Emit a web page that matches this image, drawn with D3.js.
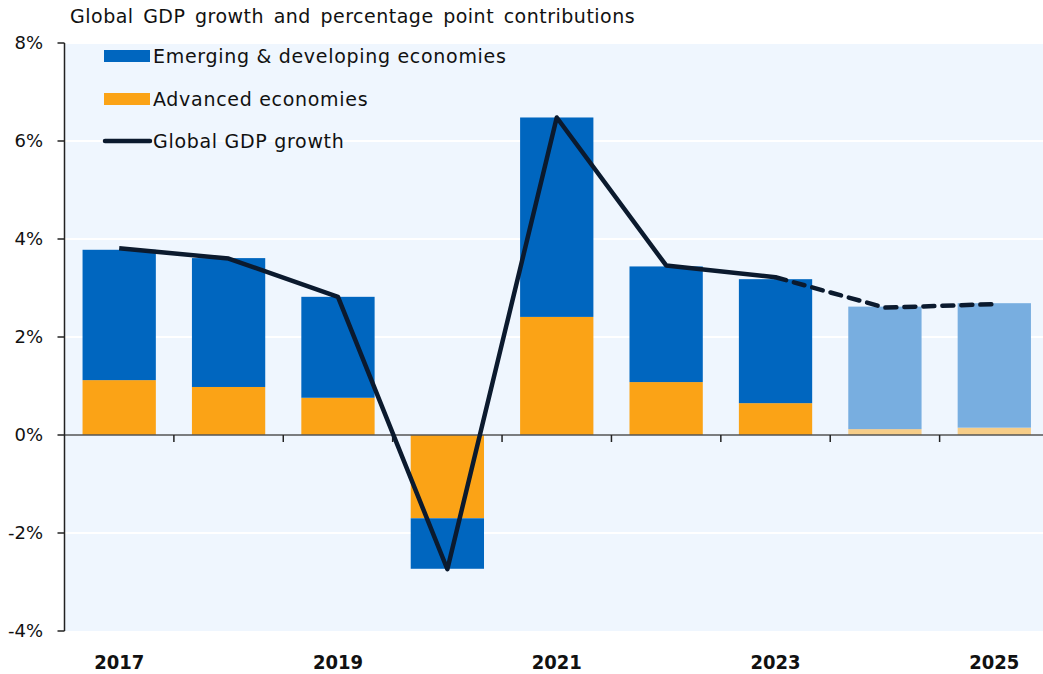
<!DOCTYPE html>
<html lang="en">
<head>
  <meta charset="UTF-8" />
  <title>Global GDP growth and percentage point contributions</title>
  <style>
    body { margin: 0; background: #fff; }
    svg { display: block; font-family: 'DejaVu Sans', sans-serif; }
    .ytick text { font-size: 18px; fill: #111; }
    .xlab { font-family: 'DejaVu Sans Condensed', 'DejaVu Sans', sans-serif; font-stretch: condensed; font-size: 20px; font-weight: bold; fill: #111; }
    .legend text { font-size: 19px; fill: #111; letter-spacing: 0.7px; }
  </style>
</head>
<body>
  <svg id="chart" width="1043" height="674"></svg>
  <script src="https://d3js.org/d3.v7.min.js"></script>
  <script>
    // data (percent / percentage points)
    const years = ["2017", "2018", "2019", "2020", "2021", "2022", "2023", "2024", "2025"];
    const advanced = [1.12, 0.98, 0.76, -1.70, 2.41, 1.08, 0.65, 0.12, 0.15];
    const emerging = [2.66, 2.63, 2.06, -1.03, 4.07, 2.36, 2.53, 2.50, 2.54];
    const globalGrowth = [3.81, 3.60, 2.82, -2.74, 6.48, 3.46, 3.22, 2.60, 2.67];
    const forecastYears = ["2024", "2025"];
    const yTicks = [-4, -2, 0, 2, 4, 6, 8];
    const xLabels = ["2017", "2019", "2021", "2023", "2025"];

    const svg = d3.select("#chart");
    const plot = { left: 64.5, right: 1049, top: 43, bottom: 631 };

    const x = d3.scaleBand().domain(years).range([plot.left, plot.right]).paddingInner(0.33).paddingOuter(0.165);
    const y = d3.scaleLinear().domain([-4, 8]).range([plot.bottom, plot.top]);

    const colors = {
      em: "#0066bf", adv: "#fba316",
      emF: "#78aee0", advF: "#f6cd88",
      line: "#0b1a2e"
    };

    // plot background
    svg.append("rect")
      .attr("x", plot.left).attr("y", plot.top)
      .attr("width", plot.right - plot.left).attr("height", plot.bottom - plot.top)
      .attr("fill", "#eff6fe");

    // gridlines
    svg.append("g").selectAll("line")
      .data(yTicks.filter(d => d !== 0 && d !== -4))
      .join("line")
      .attr("x1", plot.left).attr("x2", plot.right)
      .attr("y1", d => y(d)).attr("y2", d => y(d))
      .attr("stroke", "#fff").attr("stroke-width", 2);

    // stacked bars
    const rows = years.map((yr, i) => ({ yr, adv: advanced[i], em: emerging[i], fc: forecastYears.includes(yr) }));
    const bars = svg.append("g");
    rows.forEach(d => {
      const x0 = x(d.yr), w = x.bandwidth();
      // advanced from 0, emerging stacked on top (same sign)
      bars.append("rect")
        .attr("x", x0).attr("width", w)
        .attr("y", y(Math.max(0, d.adv))).attr("height", Math.abs(y(d.adv) - y(0)))
        .attr("fill", d.fc ? colors.advF : colors.adv);
      const base = d.adv, top = d.adv + d.em;
      bars.append("rect")
        .attr("x", x0).attr("width", w)
        .attr("y", y(Math.max(base, top))).attr("height", Math.abs(y(top) - y(base)))
        .attr("fill", d.fc ? colors.emF : colors.em);
    });

    // zero line and x ticks
    svg.append("line")
      .attr("x1", plot.left).attr("x2", plot.right)
      .attr("y1", y(0)).attr("y2", y(0))
      .attr("stroke", "#555").attr("stroke-width", 1.5);
    const step = x.step();
    svg.append("g").selectAll("line")
      .data(years.slice(1))
      .join("line")
      .attr("x1", d => x(d) - (step - x.bandwidth()) / 2)
      .attr("x2", d => x(d) - (step - x.bandwidth()) / 2)
      .attr("y1", y(0)).attr("y2", y(0) + 7)
      .attr("stroke", "#222").attr("stroke-width", 1.5);

    // y axis
    const yAxis = svg.append("g").attr("class", "ytick");
    yAxis.append("line")
      .attr("x1", plot.left).attr("x2", plot.left)
      .attr("y1", plot.top).attr("y2", plot.bottom)
      .attr("stroke", "#222").attr("stroke-width", 1.5);
    const yt = yAxis.selectAll("g").data(yTicks).join("g")
      .attr("transform", d => `translate(0,${y(d)})`);
    yt.append("line").attr("x1", plot.left - 7).attr("x2", plot.left).attr("stroke", "#222").attr("stroke-width", 1.5);
    yt.append("text").attr("x", 43).attr("dy", "0.35em").attr("text-anchor", "end")
      .text(d => d + "%");

    // x labels
    svg.append("g").selectAll("text").data(xLabels).join("text")
      .attr("class", "xlab")
      .attr("x", d => x(d) + x.bandwidth() / 2)
      .attr("y", 669)
      .attr("text-anchor", "middle")
      .text(d => d);

    // global growth line: solid up to 2023, dashed for forecast
    const pts = years.map((yr, i) => [x(yr) + x.bandwidth() / 2, y(globalGrowth[i])]);
    const lineGen = d3.line();
    const split = years.indexOf("2023");
    svg.append("path")
      .attr("d", lineGen(pts.slice(0, split + 1)))
      .attr("fill", "none").attr("stroke", colors.line).attr("stroke-width", 4.5)
      .attr("stroke-linejoin", "round");
    svg.append("path")
      .attr("d", lineGen(pts.slice(split)))
      .attr("fill", "none").attr("stroke", colors.line).attr("stroke-width", 4.5)
      .attr("stroke-dasharray", "11,8").attr("stroke-linecap", "round");

    // title
    svg.append("text")
      .attr("x", 70).attr("y", 23)
      .attr("font-size", 19).attr("fill", "#111")
      .attr("letter-spacing", 0.5).attr("word-spacing", 3)
      .text("Global GDP growth and percentage point contributions");

    // legend
    const legend = svg.append("g").attr("class", "legend");
    const items = [
      { label: "Emerging & developing economies", type: "rect", color: colors.em },
      { label: "Advanced economies", type: "rect", color: colors.adv },
      { label: "Global GDP growth", type: "line", color: colors.line }
    ];
    const legendY = [56, 99, 141];
    items.forEach((it, i) => {
      const ly = legendY[i];
      if (it.type === "rect") {
        legend.append("rect").attr("x", 104).attr("y", ly - 6).attr("width", 46).attr("height", 12).attr("fill", it.color);
      } else {
        legend.append("line").attr("x1", 105).attr("x2", 150).attr("y1", ly).attr("y2", ly)
          .attr("stroke", it.color).attr("stroke-width", 4.5).attr("stroke-linecap", "round");
      }
      legend.append("text").attr("x", 153).attr("y", ly).attr("dy", "0.35em").text(it.label);
    });
  </script>
</body>
</html>
